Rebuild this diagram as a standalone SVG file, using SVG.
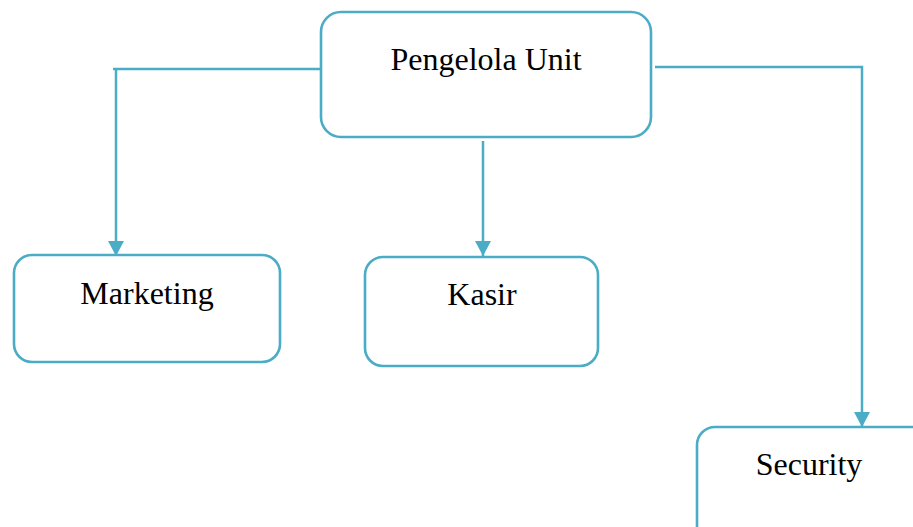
<svg xmlns="http://www.w3.org/2000/svg" width="913" height="527" viewBox="0 0 913 527">
<style>
.box{fill:#fff;stroke:#4BACC6;stroke-width:2.6}
.lbl{font-family:"Liberation Serif","Times New Roman",serif;font-size:32px;fill:#000;text-anchor:middle}
.ln{fill:none;stroke:#4BACC6;stroke-width:2.5}
</style>
<defs>
<marker id="arr" markerUnits="userSpaceOnUse" markerWidth="16" markerHeight="16" refX="15" refY="8" orient="auto">
<path d="M0,0 L15,8 L0,16 Z" fill="#4BACC6"/>
</marker>
</defs>
<rect width="913" height="527" fill="#fff"/>
<g id="connectors">
<path class="ln" d="M321,69 H113"/>
<path class="ln" d="M116,69 V256" marker-end="url(#arr)"/>
<path class="ln" d="M483,141 V256" marker-end="url(#arr)"/>
<path class="ln" d="M655,67 H862 V427" marker-end="url(#arr)"/>
</g>
<g id="pengelola">
<rect class="box" x="321" y="12" width="330" height="125" rx="20"/>
<text class="lbl" x="486" y="70">Pengelola Unit</text>
</g>
<g id="marketing">
<rect class="box" x="14" y="255" width="266" height="107" rx="18"/>
<text class="lbl" x="147" y="304">Marketing</text>
</g>
<g id="kasir">
<rect class="box" x="365" y="257" width="233" height="109" rx="18"/>
<text class="lbl" x="482" y="305">Kasir</text>
</g>
<g id="security">
<rect class="box" x="697" y="427" width="236" height="120" rx="18"/>
<text class="lbl" x="809" y="475">Security</text>
</g>
</svg>
